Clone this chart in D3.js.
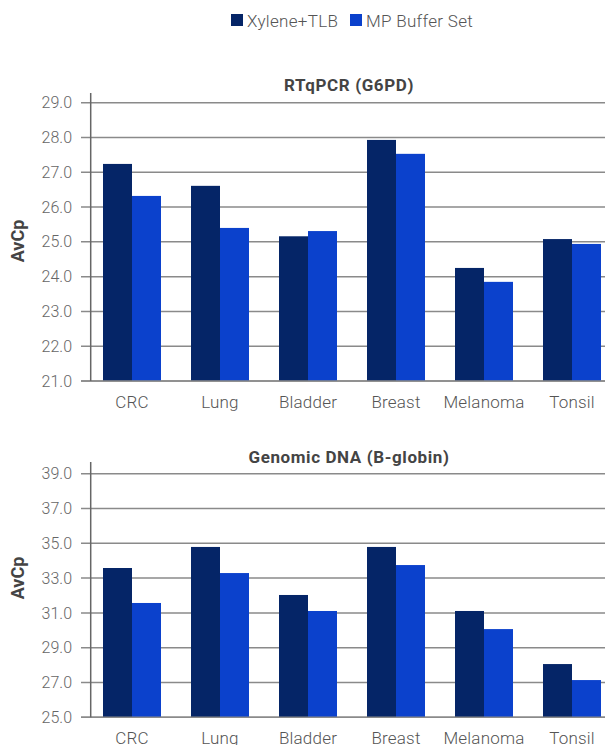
<!DOCTYPE html>
<html>
<head>
<meta charset="utf-8">
<script src="https://cdn.jsdelivr.net/npm/d3@7"></script>
<style>
  html, body { margin: 0; padding: 0; background: #fff; }
  svg { display: block; font-family: Roboto, "Noto Sans", sans-serif; }
</style>
</head>
<body>
<svg id="chart" width="605" height="745"></svg>
<script>
const categories = ["CRC", "Lung", "Bladder", "Breast", "Melanoma", "Tonsil"];
const seriesNames = ["Xylene+TLB", "MP Buffer Set"];
const seriesColors = ["#052567", "#0b41cc"];

const rnaXylene = [27.24, 26.61, 25.16, 27.93, 24.25, 25.08];
const rnaMP     = [26.32, 25.40, 25.31, 27.53, 23.85, 24.94];
const rnaTicks  = [21, 22, 23, 24, 25, 26, 27, 28, 29];

const dnaXylene = [33.58, 34.79, 32.03, 34.79, 31.11, 28.06];
const dnaMP     = [31.57, 33.29, 31.11, 33.75, 30.07, 27.14];
const dnaTicks  = [25, 27, 29, 31, 33, 35, 37, 39];

const svg = d3.select("#chart");
const tickColor = "#666";
const gridColor = "#8a8a8a";

// Legend
const legend = svg.append("g");
const legendItems = [{x: 231, name: seriesNames[0], color: seriesColors[0]},
                     {x: 350, name: seriesNames[1], color: seriesColors[1]}];
legendItems.forEach(it => {
  legend.append("rect").attr("x", it.x).attr("y", 14).attr("width", 12).attr("height", 12).attr("fill", it.color);
  legend.append("text").attr("x", it.x + 16).attr("y", 26.5).attr("font-size", 17)
    .attr("letter-spacing", 0.3)
    .attr("fill", "#555").attr("font-weight", 300).text(it.name);
});

function panel(opts) {
  const {title, titleY, top, bottom, axisTop, domain, ticks, a, b, ylabelY} = opts;
  const g = svg.append("g");
  const x = d3.scaleBand().domain(categories).range([88, 616]).paddingInner(30/88).paddingOuter(15/88);
  const xs = d3.scaleBand().domain([0, 1]).range([0, x.bandwidth()]);
  const y = d3.scaleLinear().domain(domain).range([bottom, top]);

  // grid lines
  g.selectAll(".grid").data(ticks).enter().append("line")
    .attr("x1", 81).attr("x2", 605)
    .attr("y1", d => y(d)).attr("y2", d => y(d))
    .attr("stroke", gridColor).attr("stroke-width", 1.5);

  // tick labels
  g.selectAll(".tl").data(ticks).enter().append("text")
    .attr("x", 72).attr("y", d => y(d)).attr("dy", "0.35em")
    .attr("text-anchor", "end").attr("font-size", 16).attr("font-weight", 300)
    .attr("fill", tickColor).text(d => d.toFixed(1));

  // bars
  const data = categories.map((c, i) => ({c, v: [a[i], b[i]]}));
  const grp = g.selectAll(".bg").data(data).enter().append("g")
    .attr("transform", d => `translate(${x(d.c)},0)`);
  grp.selectAll("rect").data(d => d.v.map((v, k) => ({v, k}))).enter().append("rect")
    .attr("x", d => xs(d.k)).attr("width", xs.bandwidth())
    .attr("y", d => y(d.v)).attr("height", d => y(domain[0]) - y(d.v))
    .attr("fill", d => seriesColors[d.k]);

  // baseline
  g.append("line").attr("x1", 81).attr("x2", 605).attr("y1", y(domain[0])).attr("y2", y(domain[0]))
    .attr("stroke", gridColor).attr("stroke-width", 1.5);
  // y axis line
  g.append("line").attr("x1", 90.7).attr("x2", 90.7).attr("y1", axisTop).attr("y2", y(domain[0]))
    .attr("stroke", "#666").attr("stroke-width", 1.5);

  // category labels
  g.selectAll(".cl").data(categories).enter().append("text")
    .attr("x", d => x(d) + x.bandwidth() / 2).attr("y", y(domain[0]) + 27)
    .attr("text-anchor", "middle").attr("font-size", 17).attr("font-weight", 300)
    .attr("letter-spacing", 0.2)
    .attr("fill", "#555").text(d => d);

  // title
  g.append("text").attr("x", 349).attr("y", titleY).attr("text-anchor", "middle")
    .attr("font-size", 17).attr("font-weight", 700).attr("letter-spacing", 0.6)
    .attr("fill", "#444").text(title);

  // y label
  g.append("text").attr("transform", `translate(24,${ylabelY}) rotate(-90)`)
    .attr("text-anchor", "middle").attr("font-size", 18).attr("font-weight", 700)
    .attr("fill", "#444").text("AvCp");
}

panel({title: "RTqPCR (G6PD)", titleY: 91, top: 102.7, bottom: 381, axisTop: 93,
       domain: [21, 29], ticks: rnaTicks, a: rnaXylene, b: rnaMP, ylabelY: 241});
panel({title: "Genomic DNA (B-globin)", titleY: 463, top: 473.7, bottom: 717.3, axisTop: 462,
       domain: [25, 39], ticks: dnaTicks, a: dnaXylene, b: dnaMP, ylabelY: 578});
</script>
</body>
</html>
